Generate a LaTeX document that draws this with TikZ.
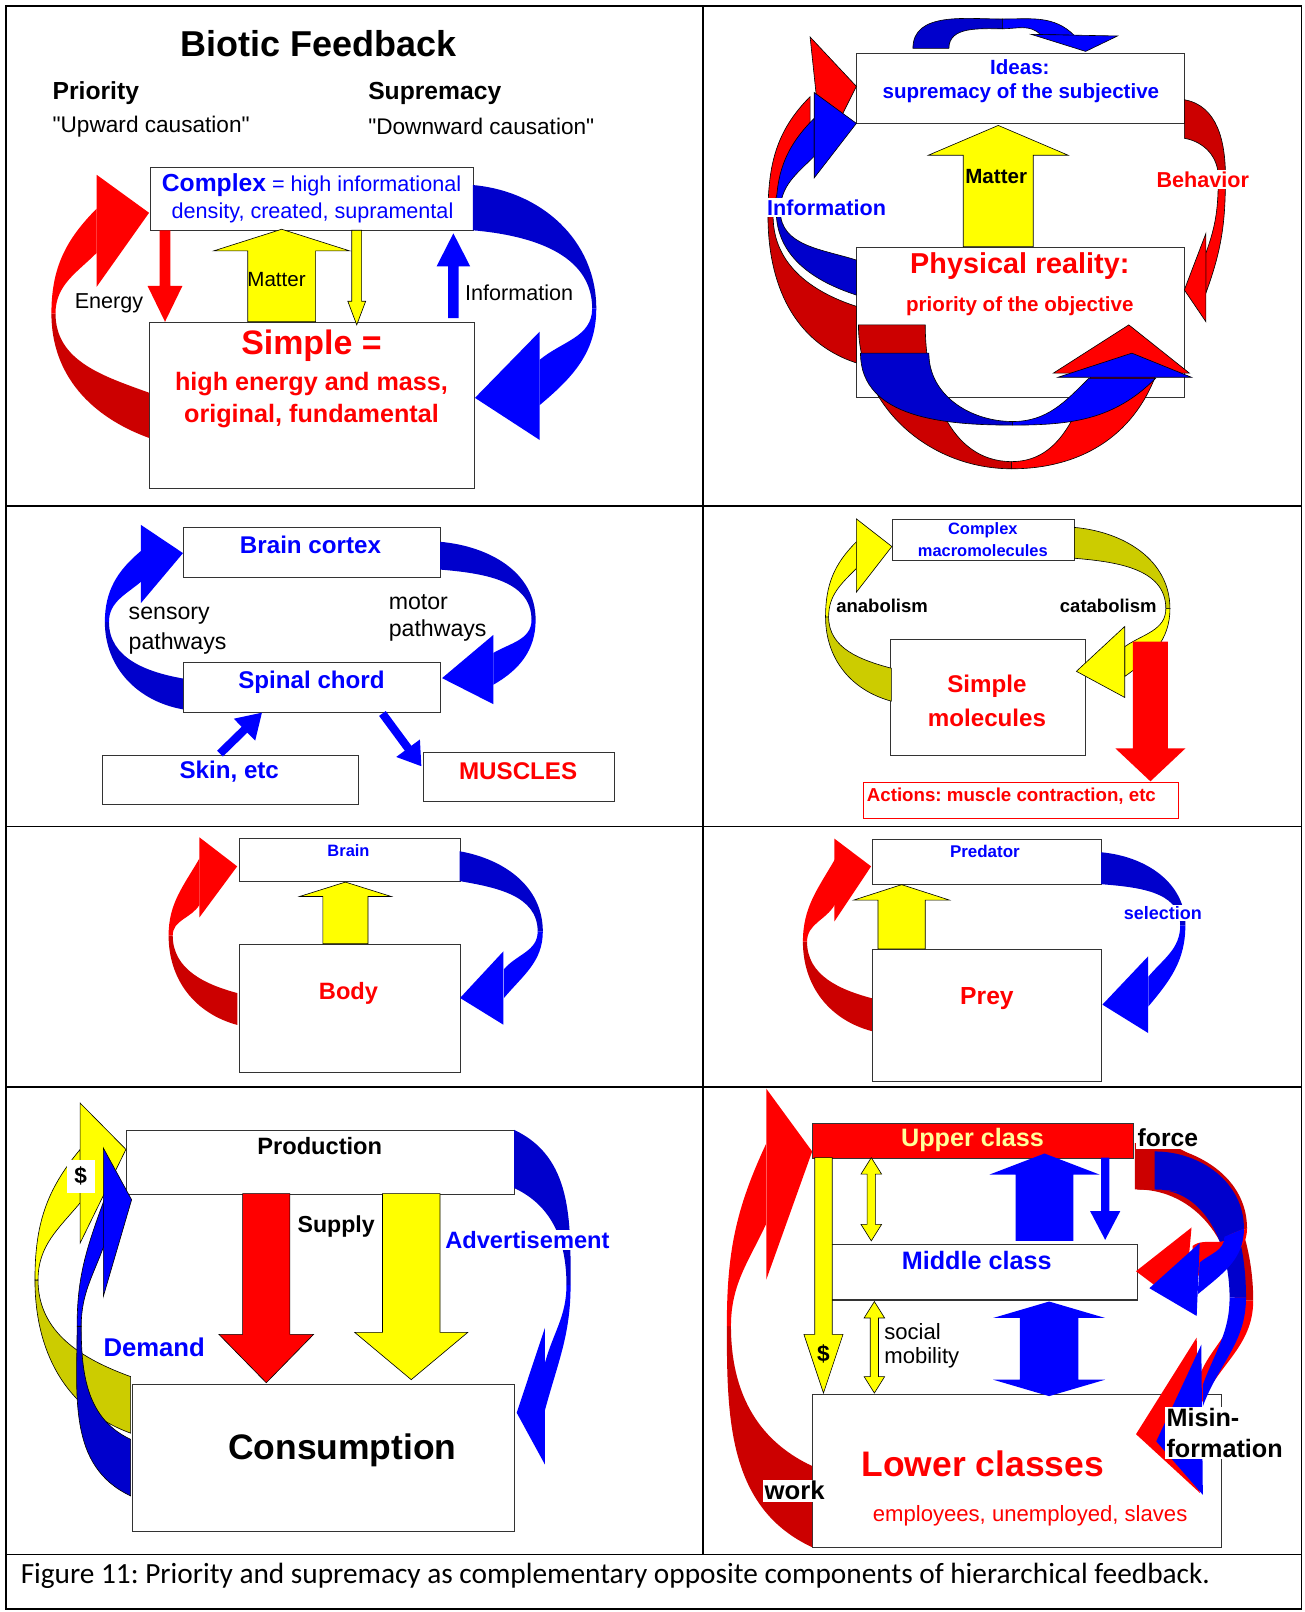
\documentclass[tikz,border=0pt]{standalone}
\usepackage{fontspec}
\setmainfont{Liberation Sans}[Ligatures=TeXOff]
\newfontfamily\capfont{Carlito}[Ligatures=TeXOff]
\usetikzlibrary{arrows.meta}
\definecolor{bR}{HTML}{FF0000}
\definecolor{dR}{HTML}{CC0000}
\definecolor{bB}{HTML}{0000FF}
\definecolor{dB}{HTML}{0000CC}
\definecolor{bY}{HTML}{FFFF00}
\definecolor{dY}{HTML}{CCCC00}
\definecolor{lY}{HTML}{FFFF99}
\newcommand\fsz[1]{\fontsize{#1}{#1}\selectfont}
\def\sgm(#1)(#2)(#3)(#4)#5#6#7{\path[#7] (#1) to[out=#5,in=#6] (#3) -- (#4) to[out=#6,in=#5] (#2) -- cycle;}
\def\hd(#1)(#2)(#3)#4{\path[#4] (#1) -- (#2) -- (#3) -- cycle;}
\newcommand\uarr[7]{\path[#7] ({#1-#4},#3) -- ({#1-#4},{#2+#6}) -- ({#1-#5},{#2+#6}) -- (#1,#2) -- ({#1+#5},{#2+#6}) -- ({#1+#4},{#2+#6}) -- ({#1+#4},#3) -- cycle;}
\newcommand\darr[7]{\path[#7] ({#1-#4},#2) -- ({#1-#4},{#3-#6}) -- ({#1-#5},{#3-#6}) -- (#1,#3) -- ({#1+#5},{#3-#6}) -- ({#1+#4},{#3-#6}) -- ({#1+#4},#2) -- cycle;}
\newcommand\dblarr[7]{\path[#7] ({#1-#4},{#2+#6}) -- ({#1-#5},{#2+#6}) -- (#1,#2) -- ({#1+#5},{#2+#6}) -- ({#1+#4},{#2+#6}) -- ({#1+#4},{#3-#6}) -- ({#1+#5},{#3-#6}) -- (#1,#3) -- ({#1-#5},{#3-#6}) -- ({#1-#4},{#3-#6}) -- cycle;}
\newcommand\bx[6][]{\node[box,anchor=north west,minimum width={#4-#2},minimum height={#5-#3},#1] (#6) at (#2,#3) {};}
\begin{document}
\frenchspacing
\begin{tikzpicture}[x=1pt,y=1pt,yscale=-1,
  box/.style={draw=black!80,line width=1pt,fill=white,inner sep=0pt},
  lbl/.style={inner sep=1pt},
  wlbl/.style={fill=white,inner sep=1.5pt},
  ol/.style={draw=black,line width=0.6pt},
  grid/.style={line width=1.8pt,draw=black}]
\useasboundingbox (0,0) rectangle (1269,1568);
\fill[white] (0,0) rectangle (1269,1568);
% grid
\draw[grid] (6,6) rectangle (1266,1565);
\draw[grid] (6,492) -- (1266,492);
\draw[grid] (6,804) -- (1266,804);
\draw[grid] (6,1057) -- (1266,1057);
\draw[grid] (6,1512) -- (1266,1512);
\draw[grid] (683.5,6) -- (683.5,1512);

% ================= Panel 1
\bx{146}{162}{460}{224}{cplx}
\bx{145}{313}{461}{475}{simp}
\sgm(145,426)(145,382)(50,305)(54,305){200}{90}{fill=dR}
\sgm(50,305)(54,305)(94,203)(94,246){270}{135}{fill=bR}
\hd(94,170)(145,207)(94,279){fill=bR}
\sgm(460,180)(460,224)(580,300)(576,300){5}{270}{fill=dB}
\sgm(580,300)(576,300)(525,394)(525,350){90}{320}{fill=bB}
\hd(525,322.5)(462,387)(525,428){fill=bB}
\darr{160.5}{224}{313}{5.3}{17}{35}{fill=bR}
\uarr{274}{223}{313}{33}{66}{21}{fill=bY,ol}
\darr{347}{224}{316}{4.8}{8.7}{23}{fill=bY,ol}
\uarr{441}{227}{309.5}{5.2}{16.3}{32}{fill=bB}
\node[lbl,font=\bfseries\fsz{35}] (title) at (310,42) {Biotic Feedback};
\node[lbl,anchor=west,font=\bfseries\fsz{24}] (prio) at (50,91) {Priority};
\node[lbl,anchor=west,font=\fsz{22}] (upw) at (50,123) {"Upward causation"};
\node[lbl,anchor=west,font=\bfseries\fsz{24}] (supr) at (357,91) {Supremacy};
\node[lbl,anchor=west,font=\fsz{22}] (dwn) at (357,123) {"Downward causation"};
\node[lbl,text=bB,font=\fsz{21}] (cx1) at (303,180) {{\bfseries\fsz{24}Complex} = high informational};
\node[lbl,text=bB,font=\fsz{21}] (cx2) at (304,207) {density, created, supramental};
\node[lbl,text=bR,font=\bfseries\fsz{33}] (sm1) at (303,336) {Simple =};
\node[lbl,text=bR,font=\bfseries\fsz{24.5}] (sm2) at (303,374) {high energy and mass,};
\node[lbl,text=bR,font=\bfseries\fsz{24.5}] (sm3) at (303,405) {original, fundamental};
\node[lbl,font=\fsz{21}] (en) at (106,295) {Energy};
\node[lbl,font=\fsz{20}] (mat1) at (269,272) {Matter};
\node[lbl,font=\fsz{21}] (inf1) at (505,285) {Information};

% ================= Panel 2
\bx{833}{52}{1152}{120}{ideas}
\bx{833}{240}{1152}{386}{phys}
\sgm(833,353)(833,298)(747,210)(752,210){198}{90}{fill=dR,ol}
\sgm(747,210)(752,210)(788,94)(788,150){270}{135}{fill=bR,ol}
\hd(788,36)(833,84)(800,150){fill=bR,ol}
\sgm(833,287)(833,253)(755,205)(759,205){198}{90}{fill=dB,ol}
\sgm(755,205)(759,205)(792,115)(792,152){270}{135}{fill=bB,ol}
\hd(792,90)(833,120)(792,173){fill=bB,ol}
\sgm(1152,97)(1152,134.5)(1192,172)(1185,172){10}{270}{fill=dR,ol}
\sgm(1192,172)(1185,172)(1173,285)(1173,246){90}{290}{fill=bR,ol}
\hd(1173,227)(1152,282)(1173,313){fill=bR,ol}
\sgm(888,47)(923,47)(975,18.5)(975,28){270}{180}{fill=dB,ol}
\sgm(975,18.5)(975,28)(1045,34.5)(1012,33.6){0}{225}{fill=bB,ol}
\hd(1003,33.4)(1087,35)(1056,50){fill=bB,ol}
\sgm(835,316)(900,316)(984,456)(984,449){90}{180}{fill=dR,ol}
\sgm(984,456)(984,449)(1125,363)(1062,363){0}{110}{fill=bR,ol}
\hd(1024.5,363)(1098,316)(1157,363){fill=bR,ol}
\sgm(837,343.5)(903.5,343.5)(985,413.5)(985,410){90}{180}{fill=dB,ol}
\sgm(985,413.5)(985,410)(1124,368)(1059,368){0}{135}{fill=bB,ol}
\hd(1029,367)(1101,343.5)(1159,367){fill=bB,ol}
\uarr{971}{122}{240}{34}{68}{29}{fill=bY,ol}
\node[lbl,text=bB,font=\bfseries\fsz{20}] (id1) at (992,65) {Ideas:};
\node[lbl,text=bB,font=\bfseries\fsz{20}] (id2) at (993,91) {supremacy of the subjective};
\node[lbl,text=bR,font=\bfseries\fsz{28}] (ph1) at (992,259) {Physical reality:};
\node[lbl,text=bR,font=\bfseries\fsz{20}] (ph2) at (992,298) {priority of the objective};
\node[lbl,font=\bfseries\fsz{20}] (mat2) at (969,172) {Matter};
\node[wlbl,text=bB,font=\bfseries\fsz{21}] (inf2) at (804,202) {Information};
\node[wlbl,text=bR,font=\bfseries\fsz{21}] (beh) at (1170,175) {Behavior};

% ================= Panel 3
\bx{178}{513}{428}{561}{cortex}
\bx{178}{644}{428}{693}{spinal}
\bx{99}{734}{348}{782}{skin}
\bx{411}{731}{597}{779}{musc}
\sgm(178,690)(178,660)(102,605)(106,605){190}{90}{fill=dB}
\sgm(102,605)(106,605)(137,536)(137,566){270}{140}{fill=bB}
\hd(137,510.5)(178,538)(137,586.7){fill=bB}
\sgm(428,527)(428,554)(521,603)(517,603){5}{270}{fill=dB}
\sgm(521,603)(517,603)(480,666)(480,635){90}{330}{fill=bB}
\hd(480,617.5)(430,659.6)(480,685){fill=bB}
\coordinate (sk1) at (214,733);
\coordinate (sk2) at (255,693);
\coordinate (mu1) at (372,694);
\coordinate (mu2) at (410,745.5);
\draw[bB,line width=8pt,-{Triangle[length=24pt,width=28pt]}] (sk1) -- (sk2);
\draw[bB,line width=8pt,-{Triangle[length=22pt,width=27pt]}] (mu1) -- (mu2);
\node[lbl,text=bB,font=\bfseries\fsz{23.5}] (tcx) at (302,530) {Brain cortex};
\node[lbl,text=bB,font=\bfseries\fsz{23.5}] (tsp) at (303,664) {Spinal chord};
\node[lbl,text=bB,font=\bfseries\fsz{23.5}] (tsk) at (223,751) {Skin, etc};
\node[lbl,text=bR,font=\bfseries\fsz{23.5}] (tmu) at (504,750) {MUSCLES};
\node[lbl,anchor=west,font=\fsz{22.5}] (sen1) at (124,599) {sensory};
\node[lbl,anchor=west,font=\fsz{22.5}] (sen2) at (124,626) {pathways};
\node[lbl,anchor=west,font=\fsz{22.5}] (mot1) at (377,586) {motor};
\node[lbl,anchor=west,font=\fsz{22.5}] (mot2) at (377,613) {pathways};

% ================= Panel 4
\bx{868}{505}{1045}{545}{cmac}
\bx{866}{622}{1055}{734}{smol}
\bx[draw=bR]{839}{761}{1146}{796}{act}
\sgm(867,682)(867,650)(803,600)(806,600){195}{90}{fill=dY,ol}
\sgm(803,600)(806,600)(833,527)(833,553){270}{135}{fill=bY,ol}
\hd(833,504.7)(867.5,531.6)(833,576){fill=bY,ol}
\sgm(1045,513)(1045,543)(1138,592)(1134,592){5}{270}{fill=dY,ol}
\sgm(1138,592)(1134,592)(1094,658)(1094,629){90}{325}{fill=bY,ol}
\hd(1094,609.4)(1047,653)(1094,678.4){fill=bY,ol}
\darr{1119}{624}{760}{17}{34}{32}{fill=bR}
\node[lbl,text=bB,font=\bfseries\fsz{16}] (cm1) at (956,516) {Complex};
\node[lbl,text=bB,font=\bfseries\fsz{16}] (cm2) at (956,536) {macromolecules};
\node[lbl,font=\bfseries\fsz{18}] (ana) at (858,589) {anabolism};
\node[lbl,font=\bfseries\fsz{18}] (cat) at (1078,589) {catabolism};
\node[lbl,text=bR,font=\bfseries\fsz{23.5}] (sm4) at (960,668) {Simple};
\node[lbl,text=bR,font=\bfseries\fsz{23.5}] (sm5) at (960,698) {molecules};
\node[lbl,anchor=west,text=bR,font=\bfseries\fsz{18.2}] (acts) at (842,774) {Actions: muscle contraction, etc};

% ================= Panel 5
\bx{232}{815}{447}{857}{brain}
\bx{232}{918}{447}{1043}{body}
\sgm(231,997)(231,966)(164,910)(168,910){195}{90}{fill=dR}
\sgm(164,910)(168,910)(194,835)(194,880){270}{120}{fill=bR}
\hd(194,814.5)(230.7,842.7)(194,892.3){fill=bR}
\sgm(447,828)(447,857)(528,906)(523,906){10}{270}{fill=dB}
\sgm(528,906)(523,906)(490,971)(490,943){90}{310}{fill=bB}
\hd(489.6,925.4)(447.5,970.7)(489.6,996.7){fill=bB}
\uarr{336}{858}{918}{22}{44.5}{14}{fill=bY,ol}
\node[lbl,text=bB,font=\bfseries\fsz{16}] (tbr) at (339,827) {Brain};
\node[lbl,text=bR,font=\bfseries\fsz{23}] (tbo) at (339,966) {Body};

% ================= Panel 6
\bx{848}{816}{1071}{860}{pred}
\bx{848}{923}{1071}{1051}{prey}
\sgm(848,1003)(848,971)(781,916)(785,916){195}{90}{fill=dR}
\sgm(781,916)(785,916)(812,836)(812,880){270}{120}{fill=bR}
\hd(811.7,815.8)(847.3,842.7)(811.7,896.2){fill=bR}
\sgm(1071,829)(1071,860)(1153,900)(1148,900){5}{270}{fill=dB}
\sgm(1153,900)(1148,900)(1117,979)(1117,950){90}{310}{fill=bB}
\hd(1116.8,930.2)(1072.3,977.2)(1116.8,1004.8){fill=bB}
\uarr{877}{860.5}{923}{23}{46.5}{15}{fill=bY,ol}
\node[lbl,text=bB,font=\bfseries\fsz{16.5}] (tpd) at (958,828) {Predator};
\node[lbl,text=bR,font=\bfseries\fsz{24}] (tpy) at (960,971) {Prey};
\node[wlbl,text=bB,font=\bfseries\fsz{17.5}] (sel) at (1131,888) {selection};

% ================= Panel 7
\bx{123}{1099}{500}{1161}{prod}
\bx{128}{1346}{500}{1489}{cons}
\sgm(127,1394)(127,1339)(34,1245)(37,1245){200}{90}{fill=dY,ol}
\sgm(34,1245)(37,1245)(78,1118)(78,1170){270}{130}{fill=bY,ol}
\hd(78,1073)(122.5,1118)(78,1209){fill=bY,ol}
\sgm(127,1455)(127,1400)(75,1290)(79,1290){205}{90}{fill=dB,ol}
\sgm(75,1290)(79,1290)(101,1168)(101,1212){270}{110}{fill=bB,ol}
\hd(100.5,1116.6)(128,1167)(100.5,1261){fill=bB,ol}
\sgm(500,1099)(500,1155.5)(555,1250)(551,1250){25}{270}{fill=dB}
\sgm(555,1250)(551,1250)(530,1372)(530,1326){90}{285}{fill=bB}
\hd(530,1291.6)(502.6,1374.2)(530,1424.5){fill=bB}
\darr{259}{1161}{1345}{23}{46}{47}{fill=bR,ol}
\darr{400}{1161}{1342}{28}{55}{46}{fill=bY,ol}
\node[lbl,font=\bfseries\fsz{23}] (tpr) at (311,1115) {Production};
\node[lbl,font=\bfseries\fsz{34.5}] (tco) at (333,1411) {Consumption};
\node[lbl,font=\bfseries\fsz{22.5}] (sup) at (327,1193) {Supply};
\node[wlbl,text=bB,font=\bfseries\fsz{23}] (adv) at (513,1206) {Advertisement};
\node[lbl,text=bB,font=\bfseries\fsz{25}] (dem) at (150,1311) {Demand};
\node[fill=white,inner sep=0pt,minimum width=27pt,minimum height=32pt,font=\bfseries\fsz{22}] (dol1) at (78.5,1144) {\$};

% ================= Panel 8
\bx[fill=bR]{790}{1092}{1102}{1126}{upper}
\bx{801}{1210}{1106}{1264}{middle}
\bx{790}{1356}{1188}{1505}{lower}
\sgm(790,1505)(790,1426)(707,1290)(711,1290){205}{90}{fill=dR}
\sgm(707,1290)(711,1290)(745,1113)(745,1191){270}{115}{fill=bR}
\hd(745.4,1059)(790,1120)(745.4,1244.6){fill=bR}
\sgm(1106,1108)(1106,1157)(1219,1265)(1201,1265){0}{270}{fill=dR}
\sgm(1219,1265)(1201,1265)(1166,1372)(1166,1340){90}{290}{fill=bR}
\hd(1164,1301)(1105,1395)(1167,1452){fill=bR}
\sgm(1123,1120)(1123,1157)(1212,1262)(1196,1262){0}{270}{fill=dB}
\sgm(1212,1262)(1196,1262)(1170,1368)(1170,1347){90}{290}{fill=bB}
\hd(1168.5,1308)(1124.7,1402)(1170,1454){fill=bB}
\sgm(1104,1112)(1104,1157)(1213,1195)(1196,1200){0}{270}{fill=dR}
\sgm(1213,1195)(1196,1200)(1160,1245)(1160,1212){90}{320}{fill=bR}
\hd(1159,1194)(1105,1236.5)(1152,1272){fill=bR}
\sgm(1123,1120)(1123,1157)(1210,1195)(1191,1203){0}{270}{fill=dB}
\sgm(1210,1195)(1191,1203)(1165,1259)(1167,1228){90}{320}{fill=bB}
\hd(1167,1209)(1118,1253)(1164,1280){fill=bB}
\darr{801}{1126}{1355}{8.5}{19}{57}{fill=bY,ol}
\dblarr{847.5}{1126}{1207}{4}{10}{16}{fill=bY,ol}
\dblarr{850.5}{1266}{1355}{4}{10}{16}{fill=bY,ol}
\uarr{1016}{1122}{1207}{28}{53.5}{20.5}{fill=bB}
\darr{1075}{1126}{1206}{4}{14.7}{28}{fill=bB}
\dblarr{1020.5}{1266}{1358}{28.5}{54.5}{16}{fill=bB}
\node[lbl,text=lY,font=\bfseries\fsz{24.5}] (tup) at (946,1109) {Upper class};
\node[lbl,text=bB,font=\bfseries\fsz{24.5}] (tmi) at (950,1226) {Middle class};
\node[lbl,text=bR,font=\bfseries\fsz{34.5}] (tlo) at (956,1424) {Lower classes};
\node[lbl,text=bR,font=\fsz{21.5}] (tem) at (1002,1474) {employees, unemployed, slaves};
\node[wlbl,font=\bfseries\fsz{24}] (frc) at (1136,1107) {force};
\node[wlbl,font=\bfseries\fsz{25}] (wrk) at (773,1450) {work};
\node[wlbl,anchor=west,align=left,font=\bfseries\fontsize{24.5}{30}\selectfont] (mis) at (1133,1394) {Misin-\\formation};
\node[lbl,anchor=west,font=\fsz{21.5}] (soc1) at (859,1295) {social};
\node[lbl,anchor=west,font=\fsz{21.5}] (soc2) at (859,1321) {mobility};
\node[lbl,font=\bfseries\fsz{22}] (dol2) at (801,1317) {\$};

% caption
\node[lbl,anchor=west,font=\capfont\fsz{28.5}] (cap) at (19,1533) {Figure 11: Priority and supremacy as complementary opposite components of hierarchical feedback.};
\end{tikzpicture}
\end{document}
